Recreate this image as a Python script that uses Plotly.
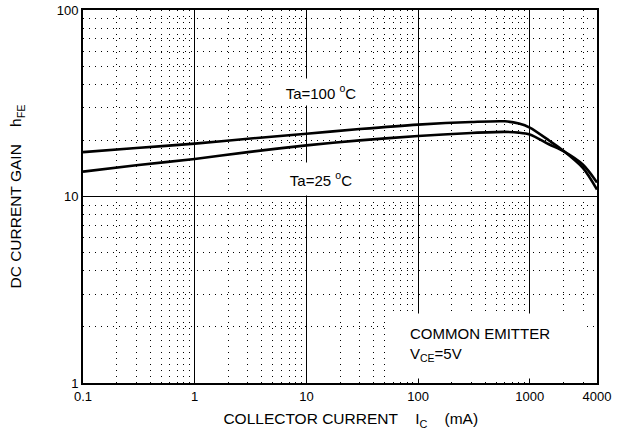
import plotly.graph_objects as go

# Data
ic_ma = [0.1, 0.3, 1, 3, 10, 30, 100, 300, 600, 800, 1000, 1500, 2000, 3000, 4000]
hfe_100c = [17.3, 18.2, 19.2, 20.4, 21.7, 23.0, 24.3, 25.1, 25.3, 24.6, 23.4, 19.9, 17.6, 14.2, 10.9]
hfe_25c = [13.6, 14.7, 15.9, 17.3, 18.8, 20.0, 21.1, 21.9, 22.2, 22.0, 21.5, 19.0, 17.5, 14.8, 11.9]

x_tickvals = [0.1, 1, 10, 100, 1000, 4000]
x_ticktext = ["0.1", "1", "10", "100", "1000", "4000"]
y_tickvals = [1, 10, 100]
y_ticktext = ["1", "10", "100"]

FONT = "Liberation Sans, Arial, sans-serif"
NB = "\u00a0"
ZW = "\u200b"

fig = go.Figure()
for y in (hfe_100c, hfe_25c):
    fig.add_trace(go.Scatter(x=ic_ma, y=y, mode="lines",
                             line=dict(color="black", width=2.6, shape="spline", smoothing=0.8),
                             showlegend=False, hoverinfo="skip"))

axis_common = dict(
    type="log", showline=True, linecolor="black", linewidth=2, mirror=True,
    showgrid=True, gridcolor="black", gridwidth=1.3, ticks="", automargin=False,
    ticklabeloverflow="allow",
    tickfont=dict(family=FONT, size=13, color="black"),
    minor=dict(dtick="D1", showgrid=True, gridcolor="black", gridwidth=1,
               griddash="1px,5px", ticks=""),
    zeroline=False,
)

fig.update_xaxes(**axis_common, range=[-1, 3.60206], tickmode="array",
                 tickvals=x_tickvals, ticktext=x_ticktext,
                 title=dict(text=ZW + NB * 5 + "COLLECTOR CURRENT" + NB * 4 + "I<sub>C</sub>" + NB * 4 + "(mA)",
                            font=dict(family=FONT, size=15.5, color="black"), standoff=11))
fig.update_yaxes(**axis_common, range=[0, 2], tickmode="array",
                 tickvals=y_tickvals, ticktext=y_ticktext,
                 title=dict(text="DC CURRENT GAIN" + NB * 4 + "h<sub>FE</sub>",
                            font=dict(family=FONT, size=15.5, color="black"), standoff=31))

ann_font = dict(family=FONT, size=15, color="black")
fig.add_annotation(x=1.134, y=1.560, xref="x", yref="y", text="Ta=100 <sup>o</sup>C",
                   showarrow=False, bgcolor="white", width=98, height=24, font=ann_font)
fig.add_annotation(x=1.134, y=1.095, xref="x", yref="y", text="Ta=25 <sup>o</sup>C",
                   showarrow=False, bgcolor="white", width=98, height=30, font=ann_font)
fig.add_annotation(x=2.610, y=0.201, xref="x", yref="y", text="",
                   showarrow=False, bgcolor="white", width=195, height=62)
fig.add_annotation(x=1.906, y=0.205, xref="x", yref="y", xanchor="left", yanchor="middle",
                   text="COMMON EMITTER<br>V<sub>CE</sub>=5V", align="left",
                   showarrow=False, font=ann_font)

fig.update_layout(width=627, height=434, margin=dict(l=83, r=30, t=10, b=51),
                  plot_bgcolor="white", paper_bgcolor="white", font=dict(family=FONT))

# remove the page's default 8px body margin so the figure sits at the window origin
fig.write_html("out.html", config={"displayModeBar": False},
               post_script="document.body.style.margin='0px';")
